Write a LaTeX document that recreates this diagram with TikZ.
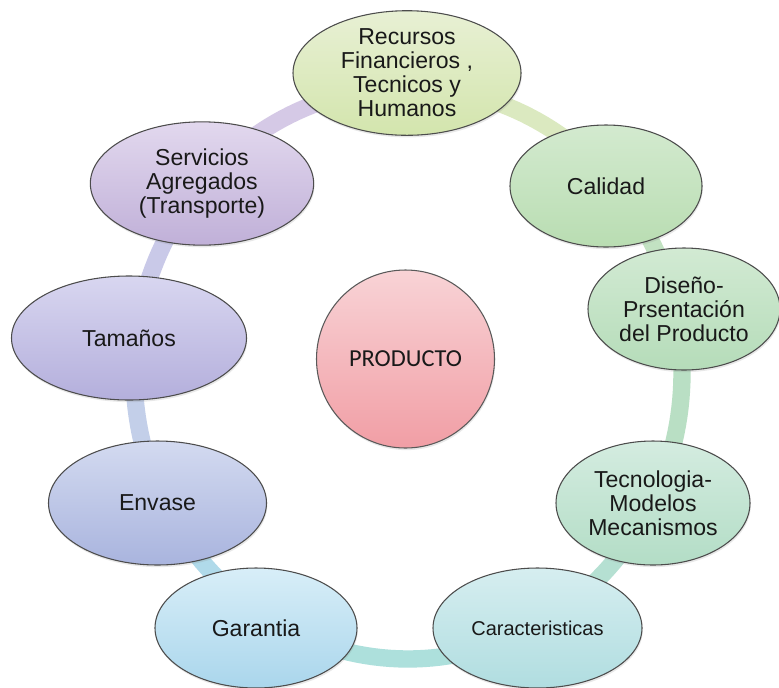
\documentclass[tikz,border=0pt]{standalone}
\usepackage{fontspec}
\setmainfont{Liberation Sans}
\newfontfamily\calfont{Carlito}
\usetikzlibrary{shapes.geometric,shadows}
\definecolor{ringA}{HTML}{DBE9C0}
\definecolor{ringB}{HTML}{C2E2C2}
\definecolor{ringC}{HTML}{B9DFC4}
\definecolor{ringD}{HTML}{B5E0D2}
\definecolor{ringE}{HTML}{ADE0DC}
\definecolor{ringF}{HTML}{B0DAEA}
\definecolor{ringG}{HTML}{C3CFE9}
\definecolor{ringH}{HTML}{C9C9E8}
\definecolor{ringI}{HTML}{D5C9E6}
\definecolor{recT}{HTML}{E8F0D4}\definecolor{recB}{HTML}{D3E5AD}
\definecolor{calT}{HTML}{D3EACF}\definecolor{calB}{HTML}{B9DDB2}
\definecolor{disT}{HTML}{D2EAD3}\definecolor{disB}{HTML}{B5DCB9}
\definecolor{tecT}{HTML}{D4ECE0}\definecolor{tecB}{HTML}{B3DDC6}
\definecolor{carT}{HTML}{D6EEF0}\definecolor{carB}{HTML}{B0DDE0}
\definecolor{garT}{HTML}{D8EEF8}\definecolor{garB}{HTML}{AAD6EC}
\definecolor{envT}{HTML}{D3DAF0}\definecolor{envB}{HTML}{A9B4DE}
\definecolor{tamT}{HTML}{D8D6F0}\definecolor{tamB}{HTML}{B4AFDC}
\definecolor{serT}{HTML}{E2D8EE}\definecolor{serB}{HTML}{C0B0D8}
\definecolor{proT}{HTML}{F8D3D6}\definecolor{proB}{HTML}{F19EA5}
\begin{document}
\begin{tikzpicture}[x=0.75pt,y=-0.75pt,
  bub/.style={ellipse, draw=black!70, line width=0.8pt, inner sep=0pt, align=center,
    font=\fontsize{17.3}{18}\selectfont, text=black!90,
    drop shadow={opacity=0.18, shadow xshift=0.6pt, shadow yshift=-1.6pt}},
  ringseg/.style={line width=13pt}]
\useasboundingbox (0,0) rectangle (779,687);
\fill[white] (0,0) rectangle (779,687);
% ring
\draw[ringseg, ringA] plot[domain=42:90, samples=30] ({408+274*cos(\x)},{373-286*sin(\x)});
\draw[ringseg, ringB] plot[domain=13:42, samples=20] ({408+274*cos(\x)},{373-286*sin(\x)});
\draw[ringseg, ringC] plot[domain=-27:13, samples=25] ({408+274*cos(\x)},{373-286*sin(\x)});
\draw[ringseg, ringD] plot[domain=-62:-27, samples=25] ({408+274*cos(\x)},{373-286*sin(\x)});
\draw[ringseg, ringE] plot[domain=-122:-62, samples=35] ({408+274*cos(\x)},{373-286*sin(\x)});
\draw[ringseg, ringF] plot[domain=-154:-122, samples=20] ({408+274*cos(\x)},{373-286*sin(\x)});
\draw[ringseg, ringG] plot[domain=173:206, samples=20] ({408+274*cos(\x)},{373-286*sin(\x)});
\draw[ringseg, ringH] plot[domain=139:173, samples=20] ({408+274*cos(\x)},{373-286*sin(\x)});
\draw[ringseg, ringI] plot[domain=90:139, samples=30] ({408+274*cos(\x)},{373-286*sin(\x)});
% nodes
\node[bub, minimum width=171pt, minimum height=93pt, top color=recT, bottom color=recB] (rec) at (407,73) {Recursos\\Financieros ,\\Tecnicos y\\Humanos};
\node[bub, minimum width=144pt, minimum height=91.5pt, top color=calT, bottom color=calB] (cal) at (606,186) {Calidad};
\node[bub, minimum width=144pt, minimum height=91.5pt, top color=disT, bottom color=disB] (dis) at (684,309) {Dise\~no-\\Prsentaci\'on\\del Producto};
\node[bub, minimum width=145.5pt, minimum height=93pt, top color=tecT, bottom color=tecB] (tec) at (653,503) {Tecnologia-\\Modelos\\Mecanismos};
\node[bub, minimum width=156.75pt, minimum height=90pt, top color=carT, bottom color=carB, font=\fontsize{15}{17}\selectfont] (car) at (537.5,628) {Caracteristicas};
\node[bub, minimum width=151.5pt, minimum height=90pt, top color=garT, bottom color=garB] (gar) at (256,628) {Garantia};
\node[bub, minimum width=163.5pt, minimum height=93pt, top color=envT, bottom color=envB] (env) at (157.5,503) {Envase};
\node[bub, minimum width=176.25pt, minimum height=93pt, top color=tamT, bottom color=tamB] (tam) at (129,338) {Tama\~nos};
\node[bub, minimum width=167.5pt, minimum height=92.5pt, top color=serT, bottom color=serB] (ser) at (202,183.5) {Servicios\\Agregados\\(Transporte)};
\node[circle, draw=black!65, line width=0.8pt, minimum size=133.5pt, inner sep=0pt, top color=proT, bottom color=proB,
  drop shadow={opacity=0.18, shadow xshift=0.6pt, shadow yshift=-1.6pt},
  font=\calfont\fontsize{18.3}{22}\selectfont, text=black!90] (pro) at (405.5,359) {PRODUCTO};
\end{tikzpicture}
\end{document}
